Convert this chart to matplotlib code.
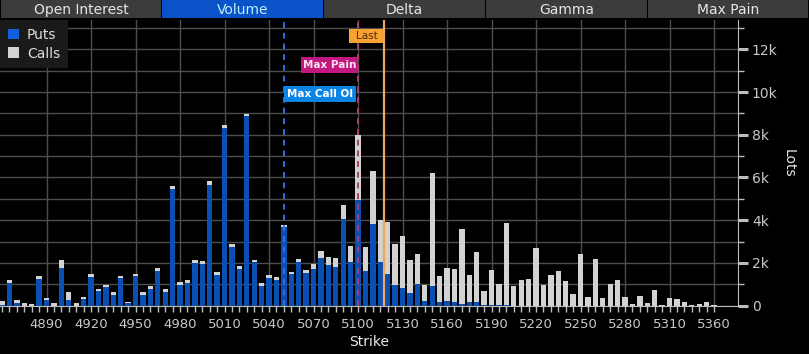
import matplotlib
matplotlib.use("Agg")
import matplotlib.pyplot as plt
from matplotlib.patches import Rectangle, Patch
from matplotlib.transforms import blended_transform_factory
from matplotlib.ticker import FixedLocator, MultipleLocator, FuncFormatter
import numpy as np

plt.rcParams['font.family'] = ['DejaVu Sans Condensed', 'Liberation Sans Narrow', 'DejaVu Sans']

# ---------------- data ----------------
first_strike = 4860
strike_step = 5
tick_labels = ['4890', '4920', '4950', '4980', '5010', '5040', '5070', '5100',
               '5130', '5160', '5190', '5220', '5250', '5280', '5310', '5360']
tabs = ['Open Interest', 'Volume', 'Delta', 'Gamma', 'Max Pain']
active_tab = 'Volume'

puts = [50, 1080, 140, 0, 0, 1250, 270, 0, 1750, 270,
        0, 310, 1360, 700, 890, 500, 1290, 120, 1370, 510,
        800, 1640, 660, 5460, 970, 1060, 2010, 1970, 5660, 1450,
        8330, 2760, 1730, 8880, 2030, 940, 1310, 1200, 3700, 1500,
        2030, 1530, 1720, 2230, 1900, 1810, 4060, 2040, 4960, 1640,
        3820, 2060, 1500, 950, 840, 610, 1000, 200, 940, 160,
        200, 170, 100, 150, 170, 50, 30, 20, 30, 0,
        0, 0, 0, 0, 0, 0, 0, 0, 0, 0,
        0, 0, 0, 0, 0, 0, 0, 0, 0, 0,
        0, 0, 0, 0, 0, 0, 0]
calls = [170, 120, 130, 140, 80, 140, 90, 120, 390, 370,
         120, 100, 140, 60, 80, 140, 110, 70, 130, 130,
         120, 120, 120, 140, 130, 140, 130, 120, 170, 130,
         130, 130, 130, 90, 110, 120, 130, 130, 60, 80,
         140, 120, 230, 310, 360, 400, 640, 750, 3010, 1120,
         2470, 1940, 2400, 1940, 2420, 1530, 1420, 770, 5260, 1230,
         1560, 1560, 3490, 1300, 2340, 650, 1640, 990, 3850, 940,
         1200, 1250, 2700, 970, 1440, 1620, 1150, 550, 2420, 410,
         2180, 360, 1010, 1200, 410, 80, 450, 120, 730, 30,
         360, 310, 170, 30, 80, 170, 30]

max_call_oi_strike = 5050
max_pain_strike = 5100
last_price = 5117.75

# ---------------- colours ----------------
BG = '#000000'
PUT_C = '#0a4fb4'
CALL_C = '#d2d2d2'
GRID_C = '#4d4d4d'
AXIS_C = '#bdbdbd'
TXT_C = '#c8c8c8'

W, H = 809, 354
fig = plt.figure(figsize=(W / 100, H / 100), dpi=100, facecolor=BG)

# ---------------- tabs ----------------
tab_ax = fig.add_axes([0, (H - 18) / H, 1, 18 / H])
tab_ax.set_xlim(0, len(tabs))
tab_ax.set_ylim(0, 1)
tab_ax.axis('off')
for i, t in enumerate(tabs):
    act = (t == active_tab)
    tab_ax.add_patch(Rectangle((i + 0.004, 0), 0.992, 1,
                               facecolor='#0a52c8' if act else '#3c3c3c',
                               edgecolor='none'))
    tab_ax.text(i + 0.5, 0.47, t, ha='center', va='center', fontsize=10,
                color='#bdeeff' if act else '#e6e6e6')

# ---------------- main axes ----------------
x0_px, x1_px = 0, 738
y_top_px, y_bot_px = 20, 305.7
ax = fig.add_axes([x0_px / W, (H - y_bot_px) / H, (x1_px - x0_px) / W,
                   (y_bot_px - y_top_px) / H])
ax.set_facecolor(BG)

x = np.arange(len(puts))
puts_a = np.array(puts)
calls_a = np.array(calls)
ax.bar(x, puts_a, width=0.72, color=PUT_C, zorder=3, linewidth=0)
ax.bar(x, calls_a, width=0.72, bottom=puts_a, color=CALL_C, zorder=3, linewidth=0)

ax.set_xlim(-0.27, 99.23)
ax.set_ylim(0, 13370)

tick_pos = np.arange(6, 6 + 6 * len(tick_labels), 6)
ax.xaxis.set_major_locator(FixedLocator(tick_pos))
ax.set_xticklabels(tick_labels)
ax.xaxis.set_minor_locator(FixedLocator(x))
ax.tick_params(axis='x', which='both', direction='out', length=4, width=1,
               color=AXIS_C, labelcolor=TXT_C, labelsize=9.5, pad=5)

ax.yaxis.tick_right()
ax.yaxis.set_label_position('right')
ax.yaxis.set_major_locator(MultipleLocator(2000))
ax.yaxis.set_minor_locator(MultipleLocator(1000))
ax.yaxis.set_major_formatter(FuncFormatter(lambda v, p: '0' if v == 0 else f'{int(v / 1000)}k'))
ax.tick_params(axis='y', which='major', direction='out', length=7, width=2.2,
               color=AXIS_C, labelcolor=TXT_C, labelsize=10, pad=3)
ax.tick_params(axis='y', which='minor', direction='out', length=4, width=1, color=AXIS_C)

ax.grid(True, axis='x', which='major', color=GRID_C, linewidth=1, zorder=1)
ax.grid(True, axis='y', which='both', color=GRID_C, linewidth=1, zorder=1)
ax.set_axisbelow(True)

for s in ['top', 'left']:
    ax.spines[s].set_visible(False)
ax.spines['right'].set_color(AXIS_C)
ax.spines['bottom'].set_color(AXIS_C)

ax.set_xlabel('Strike', color='#e8e8e8', fontsize=10, labelpad=3)
ax.set_ylabel('Lots', color='#e8e8e8', fontsize=10, rotation=270, labelpad=13)

# ---------------- marker lines & labels ----------------
def s2x(s):
    return (s - first_strike) / strike_step

tr = blended_transform_factory(ax.transData, ax.transAxes)
xc = s2x(max_call_oi_strike)
xp = s2x(max_pain_strike)
xl = s2x(last_price)

ax.axvline(xc, color='#2f6fe0', linestyle=(0, (3, 2.5)), linewidth=1.4, zorder=5)
ax.axvline(xp, color='#b03a78', linestyle=(0, (3, 2.5)), linewidth=1.4, zorder=5)
ax.axvline(xl, color='#f2a45a', linewidth=1.6, zorder=5)

def label_box(x_left, width, y_lo, y_hi, fc, text, tc, weight='bold'):
    ax.add_patch(Rectangle((x_left, y_lo), width, y_hi - y_lo, transform=tr,
                           facecolor=fc, edgecolor='none', zorder=6, clip_on=False))
    ax.text(x_left + width / 2, (y_lo + y_hi) / 2, text, transform=tr,
            ha='center', va='center', fontsize=7.5, color=tc, weight=weight, zorder=7)

label_box(xc, 9.7, 0.712, 0.770, '#0a84e6', 'Max Call OI', '#ffffff')
label_box(xp - 7.7, 7.7, 0.813, 0.872, '#c0187e', 'Max Pain', '#ffe0f0')
label_box(xl - 4.7, 4.7, 0.920, 0.968, '#f7a233', 'Last', '#4a2a00', weight='normal')

# ---------------- legend ----------------
handles = [Patch(facecolor='#1060dc', edgecolor='none', label='Puts'),
           Patch(facecolor=CALL_C, edgecolor='none', label='Calls')]
leg = ax.legend(handles=handles, loc='upper left', bbox_to_anchor=(0, 1),
                frameon=True, fancybox=False, facecolor='#1a1a1a', edgecolor='none',
                framealpha=1, fontsize=10, handlelength=0.8, handleheight=0.8,
                handletextpad=0.6, borderpad=0.55, labelspacing=0.35, borderaxespad=0)
for t in leg.get_texts():
    t.set_color('#dcdcdc')
leg.set_zorder(8)

fig.savefig('out.png', dpi=100, facecolor=BG)
